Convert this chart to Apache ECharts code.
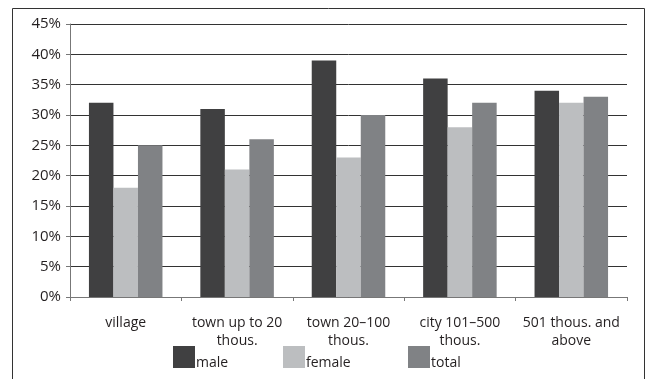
<!DOCTYPE html>
<html><head><meta charset="utf-8">
<script src="https://cdn.jsdelivr.net/npm/echarts@6/dist/echarts.min.js"></script>
<style>html,body{margin:0;padding:0;background:#fff}#c{width:647px;height:379px}</style>
</head><body><div id="c"></div>
<script>
const categories = ["village", "town up to 20\nthous.", "town 20–100\nthous.", "city 101–500\nthous.", "501 thous. and\nabove"];
const male = [32, 31, 39, 36, 34];
const female = [18, 21, 23, 28, 32];
const total = [25, 26, 30, 32, 33];
const yTicks = [0, 5, 10, 15, 20, 25, 30, 35, 40, 45];

const font = "'Open Sans', sans-serif";
const chart = echarts.init(document.getElementById('c'), null, {renderer: 'canvas'});
function leg(name, left) {
  return {
    data: [name], left: left, top: 346, itemWidth: 22, itemHeight: 22, icon: 'rect',
    itemGap: 0, padding: 0,
    formatter: n => '{a|' + n + '}',
    textStyle: {rich: {a: {fontFamily: font, fontSize: 14, color: '#231f20', padding: [13, 0, 0, -4]}}}
  };
}
chart.setOption({
  animation: false,
  graphic: [{type: 'rect', shape: {x: 12.5, y: 8.5, width: 632, height: 380}, style: {fill: 'none', stroke: '#333', lineWidth: 1}}],
  grid: {left: 70, right: 20, top: 24, bottom: 82},
  legend: [leg('male', 173), leg('female', 283), leg('total', 408)],
  xAxis: {
    type: 'category', data: categories,
    axisLine: {lineStyle: {color: '#777', width: 1}},
    axisTick: {show: true, length: 4, lineStyle: {color: '#777'}},
    axisLabel: {interval: 0, align: 'center', fontFamily: font, fontSize: 14, color: '#231f20', margin: 17, lineHeight: 18}
  },
  yAxis: {
    type: 'value', min: yTicks[0], max: yTicks[yTicks.length - 1], interval: 5,
    axisLine: {show: true, lineStyle: {color: '#777', width: 1}},
    axisTick: {show: true, length: 4, lineStyle: {color: '#777'}},
    axisLabel: {fontFamily: font, fontSize: 15, color: '#231f20', margin: 9, formatter: v => v + '%'},
    splitLine: {lineStyle: {color: '#333', width: 1}}
  },
  series: [
    {name: 'male', type: 'bar', data: male, itemStyle: {color: '#404041'}, barGap: '0%', barCategoryGap: '34%'},
    {name: 'female', type: 'bar', data: female, itemStyle: {color: '#bcbec0'}},
    {name: 'total', type: 'bar', data: total, itemStyle: {color: '#808285'}}
  ]
});
</script></body></html>
